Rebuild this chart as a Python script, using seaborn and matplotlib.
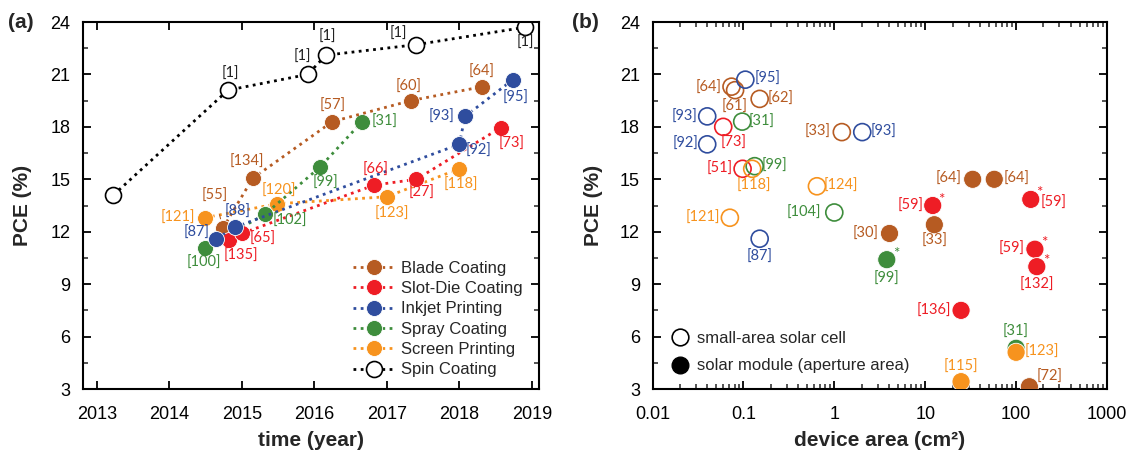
import matplotlib
matplotlib.use("Agg")
import matplotlib.pyplot as plt
import matplotlib.ticker as mticker
from matplotlib.lines import Line2D
import numpy as np
import pandas as pd
import seaborn as sns

# ---------------- data : panel (a) ----------------
methods = ["Blade Coating", "Slot-Die Coating", "Inkjet Printing",
           "Spray Coating", "Screen Printing", "Spin Coating"]

blade_year = [2014.74, 2015.15, 2016.25, 2017.33, 2018.32]
blade_pce = [12.2, 15.05, 18.3, 19.5, 20.3]
blade_ref = ["[55]", "[134]", "[57]", "[60]", "[64]"]

slot_year = [2014.83, 2015.00, 2016.83, 2017.41, 2018.57]
slot_pce = [11.55, 11.9, 14.67, 15.0, 17.95]
slot_ref = ["[135]", "[65]", "[66]", "[27]", "[73]"]

inkjet_year = [2014.65, 2014.90, 2018.00, 2018.08, 2018.74]
inkjet_pce = [11.6, 12.25, 17.0, 18.6, 20.7]
inkjet_ref = ["[87]", "[88]", "[92]", "[93]", "[95]"]

spray_year = [2014.49, 2015.32, 2016.08, 2016.66]
spray_pce = [11.05, 13.0, 15.7, 18.3]
spray_ref = ["[100]", "[102]", "[99]", "[31]"]

screen_year = [2014.49, 2015.49, 2017.00, 2018.00]
screen_pce = [12.8, 13.6, 14.0, 15.6]
screen_ref = ["[121]", "[120]", "[123]", "[118]"]

spin_year = [2013.23, 2014.81, 2015.91, 2016.16, 2017.40, 2018.91]
spin_pce = [14.1, 20.1, 21.0, 22.1, 22.7, 23.7]
spin_ref = ["", "[1]", "[1]", "[1]", "[1]", "[1]"]

# ---------------- data : panel (b) ----------------
b_method = ["Blade Coating", "Blade Coating", "Inkjet Printing", "Blade Coating",
            "Inkjet Printing", "Slot-Die Coating", "Spray Coating", "Inkjet Printing",
            "Slot-Die Coating", "Spray Coating", "Screen Printing", "Blade Coating",
            "Inkjet Printing", "Screen Printing", "Spray Coating", "Screen Printing",
            "Inkjet Printing",
            "Blade Coating", "Spray Coating", "Blade Coating", "Blade Coating",
            "Slot-Die Coating", "Blade Coating", "Slot-Die Coating", "Slot-Die Coating",
            "Slot-Die Coating", "Slot-Die Coating", "Spray Coating", "Screen Printing",
            "Screen Printing", "Blade Coating"]
b_area = [0.074, 0.081, 0.105, 0.151, 0.040, 0.060, 0.097, 0.040, 0.098, 0.133,
          0.125, 1.21, 2.03, 0.644, 1.0, 0.071, 0.151,
          4.05, 3.78, 33.3, 57.5, 12.1, 12.6, 145, 161, 169, 24.8, 100, 100, 24.8, 140]
b_pce = [20.3, 20.1, 20.7, 19.6, 18.6, 18.0, 18.3, 17.0, 15.6, 15.75,
         15.6, 17.7, 17.7, 14.6, 13.1, 12.8, 11.6,
         11.9, 10.4, 15.0, 15.0, 13.5, 12.4, 13.85, 11.0, 10.0, 7.5, 5.33, 5.1, 3.42, 3.13]
b_ref = ["[64]", "[61]", "[95]", "[62]", "[93]", "[73]", "[31]", "[92]", "[51]", "[99]",
         "[118]", "[33]", "[93]", "[124]", "[104]", "[121]", "[87]",
         "[30]", "[99]", "[64]", "[64]", "[59]", "[33]", "[59]", "[59]", "[132]",
         "[136]", "[31]", "[123]", "[115]", "[72]"]
b_type = ["cell"] * 17 + ["module"] * 14
b_star = [False] * 17 + [False, True, False, False, True, False, True, True, True,
                         False, False, False, False, False]

# ---------------- styles ----------------
colors = {"Blade Coating": "#B65B22", "Slot-Die Coating": "#EE1D25",
          "Inkjet Printing": "#2F4D9E", "Spray Coating": "#3E8D3C",
          "Screen Printing": "#F7931E", "Spin Coating": "#000000"}

# label offsets in pixels (dx, dy), dy positive = up
off_a = {
    "Blade Coating": [(-8, 32), (-6, 17), (0, 16), (-2, 14), (-1, 15)],
    "Slot-Die Coating": [(11, -16), (21, -5), (1, 15), (5, -14), (11, -16)],
    "Inkjet Printing": [(-20, 6), (3, 16), (19, -7), (-23, 0), (3, -18)],
    "Spray Coating": [(-1, -15), (25, -7), (5, -16), (23, 0)],
    "Screen Printing": [(-27, 0), (2, 13), (5, -17), (2, -16)],
    "Spin Coating": [(0, 0), (2, 16), (-5, 18), (2, 18), (-17, 11), (0, -16)],
}
off_b = [(-23, -1), (0, -17), (22, 1), (21, 0), (-23, 0), (10, -16), (19, 0), (-22, 0),
         (-23, 0), (20, 0), (2, -17), (-24, 0), (21, 0), (24, 0), (-30, 0), (-27, 0),
         (0, -18),
         (-24, 0), (0, -19), (-24, 0), (22, 0), (-22, 0), (0, -16), (23, -3), (-23, 0),
         (0, -18), (-27, 0), (0, 16), (26, 0), (0, 15), (20, 10)]

LABEL_FONT = ["Lato", "DejaVu Sans"]
LABEL_SIZE = 10.5

sns.set_theme(style="ticks")
plt.rcParams["font.family"] = ["Liberation Sans", "DejaVu Sans"]
plt.rcParams["axes.linewidth"] = 1.5

fig = plt.figure(figsize=(11.29, 4.54), dpi=100)
W, H = 1129, 454
axA = fig.add_axes([83 / W, 1 - 389 / H, (539 - 83) / W, (389 - 22) / H])
axB = fig.add_axes([652.5 / W, 1 - 389 / H, (1107 - 652.5) / W, (389 - 22) / H])

series = {
    "Blade Coating": (blade_year, blade_pce, blade_ref),
    "Slot-Die Coating": (slot_year, slot_pce, slot_ref),
    "Inkjet Printing": (inkjet_year, inkjet_pce, inkjet_ref),
    "Spray Coating": (spray_year, spray_pce, spray_ref),
    "Screen Printing": (screen_year, screen_pce, screen_ref),
    "Spin Coating": (spin_year, spin_pce, spin_ref),
}
draw_order = ["Spin Coating", "Screen Printing", "Spray Coating", "Blade Coating",
              "Slot-Die Coating", "Inkjet Printing"]

handles = {}
for m in draw_order:
    yr, pce, refs = series[m]
    df = pd.DataFrame({"year": yr, "pce": pce})
    c = colors[m]
    if m == "Spin Coating":
        kw = dict(markerfacecolor="white", markeredgecolor="black", markeredgewidth=1.2)
    else:
        kw = dict(markerfacecolor=c, markeredgecolor="white", markeredgewidth=0.6)
    sns.lineplot(data=df, x="year", y="pce", ax=axA, sort=False, estimator=None,
                 color=c, linestyle=(0, (1, 1.6)), linewidth=2.0, marker="o",
                 markersize=11.5, **kw)
    handles[m] = Line2D([], [], color=c, linestyle=(0, (1, 1.6)), linewidth=2.0,
                        marker="o", markersize=11.5, **kw)
    for (x, y, r, (dx, dy)) in zip(yr, pce, refs, off_a[m]):
        if not r:
            continue
        if r == "[55]":
            axA.annotate(r, (x, y), xytext=(dx, dy), textcoords="offset pixels",
                         ha="center", va="center", color=c, fontsize=LABEL_SIZE,
                         family=LABEL_FONT,
                         arrowprops=dict(arrowstyle="-", color=c, lw=0.8,
                                         shrinkA=6, shrinkB=7))
        else:
            axA.annotate(r, (x, y), xytext=(dx, dy), textcoords="offset pixels",
                         ha="center", va="center", color=c if m != "Spin Coating" else "#222222",
                         fontsize=LABEL_SIZE, family=LABEL_FONT)

axA.legend([handles[m] for m in methods], methods, loc="lower right",
           bbox_to_anchor=(0.99, 0.0), frameon=False, fontsize=12,
           handlelength=2.6, handletextpad=0.3, labelspacing=0.32,
           borderaxespad=0.3)

axA.set_xlim(2012.81, 2019.1)
axA.set_ylim(3, 24)
axA.set_xticks(range(2013, 2020))
axA.set_yticks(range(3, 25, 3))
axA.yaxis.set_minor_locator(mticker.MultipleLocator(1.5))
axA.set_xlabel("time (year)", fontsize=15, fontweight="bold", labelpad=6)
axA.set_ylabel("PCE (%)", fontsize=15, fontweight="bold")
axA.yaxis.set_label_coords(-0.112, 0.5)

# ---------------- panel (b) ----------------
dfb = pd.DataFrame({"method": b_method, "area": b_area, "pce": b_pce,
                    "ref": b_ref, "type": b_type, "star": b_star})
cells = dfb[dfb["type"] == "cell"]
mods = dfb[dfb["type"] == "module"]
sns.scatterplot(data=cells, x="area", y="pce", ax=axB, s=150, marker="o",
                facecolors="none", edgecolor=[colors[m] for m in cells["method"]],
                linewidth=1.2, legend=False, zorder=3)
sns.scatterplot(data=mods, x="area", y="pce", hue="method", palette=colors, ax=axB,
                s=170, marker="o", edgecolor="white", linewidth=0.6, legend=False,
                zorder=3)
for i, row in dfb.iterrows():
    c = colors[row["method"]]
    dx, dy = off_b[i]
    axB.annotate(row["ref"], (row["area"], row["pce"]), xytext=(dx, dy),
                 textcoords="offset pixels", ha="center", va="center", color=c,
                 fontsize=LABEL_SIZE, family=LABEL_FONT)
    if row["star"]:
        axB.annotate("*", (row["area"], row["pce"]), xytext=(9, 6),
                     textcoords="offset pixels", ha="center", va="center", color=c,
                     fontsize=11, family=LABEL_FONT)

axB.set_xscale("log")
axB.set_xlim(0.01, 1000)
axB.set_ylim(3, 24)
axB.set_yticks(range(3, 25, 3))
axB.yaxis.set_minor_locator(mticker.MultipleLocator(1.5))
axB.xaxis.set_major_locator(mticker.LogLocator(base=10, numticks=10))
axB.xaxis.set_minor_locator(mticker.LogLocator(base=10, subs=np.arange(2, 10), numticks=20))
axB.xaxis.set_major_formatter(mticker.FuncFormatter(lambda v, p: f"{v:g}"))
axB.xaxis.set_minor_formatter(mticker.NullFormatter())
axB.set_xlabel("device area (cm²)", fontsize=15, fontweight="bold", labelpad=6)
axB.set_ylabel("PCE (%)", fontsize=15, fontweight="bold")
axB.yaxis.set_label_coords(-0.109, 0.5)

legB = [Line2D([], [], linestyle="none", marker="o", markersize=12,
               markerfacecolor="white", markeredgecolor="black", markeredgewidth=1.2),
        Line2D([], [], linestyle="none", marker="o", markersize=12,
               markerfacecolor="black", markeredgecolor="black")]
axB.legend(legB, ["small-area solar cell", "solar module (aperture area)"],
           loc="lower left", bbox_to_anchor=(0.02, 0.015), frameon=False, fontsize=12,
           handlelength=1.0, handletextpad=0.5, labelspacing=0.75, borderaxespad=0.2)

for ax in (axA, axB):
    ax.tick_params(axis="both", which="major", direction="in", length=6, width=1.3,
                   top=True, right=True, labelsize=13, colors="black")
    ax.tick_params(axis="x", which="major", pad=12)
    ax.tick_params(axis="y", which="major", pad=9)
    ax.tick_params(axis="both", which="minor", direction="in", length=3.5, width=1.1,
                   top=True, right=True)
    for sp in ax.spines.values():
        sp.set_visible(True)
        sp.set_color("black")

fig.text(8 / W, 1 - 22 / H, "(a)", fontsize=15, fontweight="bold", va="center", ha="left")
fig.text(572 / W, 1 - 22 / H, "(b)", fontsize=15, fontweight="bold", va="center", ha="left")

fig.savefig("out.png", dpi=100)
